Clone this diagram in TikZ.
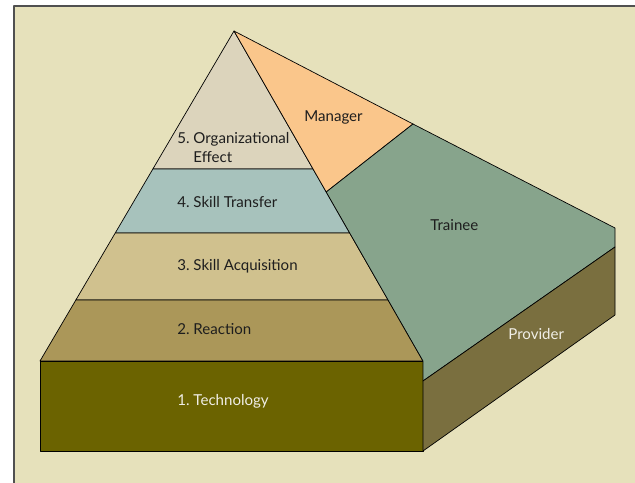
\documentclass[tikz,border=0pt]{standalone}
\usepackage{fontspec}
\setmainfont{Lato}
\usepackage{tikz}
\usetikzlibrary{calc}

\definecolor{bgkhaki}{HTML}{E6E1BB}
\definecolor{framegray}{HTML}{505050}
\definecolor{orgbeige}{HTML}{DCD4BC}
\definecolor{transferteal}{HTML}{A7C2BC}
\definecolor{acqtan}{HTML}{D0C18E}
\definecolor{reactbrown}{HTML}{AB9759}
\definecolor{techolive}{HTML}{6B6300}
\definecolor{mgrorange}{HTML}{FAC68B}
\definecolor{traineegreen}{HTML}{87A48C}
\definecolor{provbrown}{HTML}{7A6F3F}
\definecolor{labeldark}{HTML}{1E1E1E}
\definecolor{labellight}{HTML}{F0EEE6}

\begin{document}
\begin{tikzpicture}[x=0.035cm, y=-0.035cm, line width=0.7pt, line join=round,
    lbl/.style={anchor=west, inner sep=0pt, text=labeldark, font=\fontsize{15}{18.5}\selectfont},
    lbllight/.style={lbl, text=labellight}]
    \useasboundingbox (0,0) rectangle (635,483);
    \fill[white] (0,0) rectangle (635,483);
    \fill[bgkhaki] (14,6) rectangle (640,490);
    \draw[framegray, line width=1.4pt] (14,490) -- (14,6) -- (640,6);

    % pyramid corners
    \coordinate (apex) at (234,31);
    \coordinate (baseL) at (40,361);
    \coordinate (baseR) at (423,361);
    \coordinate (techBR) at (423,451);
    \coordinate (o5L) at ($(apex)!0.4182!(baseL)$);
    \coordinate (o5R) at ($(apex)!0.4182!(baseR)$);
    \coordinate (o4L) at ($(apex)!0.6121!(baseL)$);
    \coordinate (o4R) at ($(apex)!0.6121!(baseR)$);
    \coordinate (o3L) at ($(apex)!0.8152!(baseL)$);
    \coordinate (o3R) at ($(apex)!0.8152!(baseR)$);
    \coordinate (mgrMid) at ($(apex)!0.4879!(baseR)$);

    % back plane and side
    \coordinate (mgrBack) at (413,124);
    \coordinate (backTop) at (615,228);
    \coordinate (backEdge) at (615,247);
    \coordinate (backLow) at (615,315);
    \coordinate (sideTop) at (423,381);

    \filldraw[fill=orgbeige] (apex) -- (o5L) -- (o5R) -- cycle;
    \filldraw[fill=transferteal] (o5L) -- (o4L) -- (o4R) -- (o5R) -- cycle;
    \filldraw[fill=acqtan] (o4L) -- (o3L) -- (o3R) -- (o4R) -- cycle;
    \filldraw[fill=reactbrown] (o3L) -- (baseL) -- (baseR) -- (o3R) -- cycle;
    \filldraw[fill=techolive] (baseL) rectangle (techBR);

    \filldraw[fill=mgrorange] (apex) -- (mgrBack) -- (mgrMid) -- cycle;
    \filldraw[fill=traineegreen] (mgrMid) -- (mgrBack) -- (backTop) -- (backEdge) -- (sideTop) -- (baseR) -- cycle;
    \filldraw[fill=provbrown] (sideTop) -- (backEdge) -- (backLow) -- (techBR) -- cycle;

    \node[lbl, align=left] (org) at (177,147.5) {5.~Organizational\\\phantom{5.~}Effect};
    \node[lbl] (transfer) at (177,202) {4.~Skill Transfer};
    \node[lbl] (acq) at (177,266.5) {3.~Skill Acquisition};
    \node[lbl] (react) at (177,329) {2.~Reaction};
    \node[lbllight] (tech) at (177,401.5) {1.~Technology};
    \node[lbl] (mgr) at (304,117.5) {Manager};
    \node[lbl] (trainee) at (430,225.5) {Trainee};
    \node[lbllight] (prov) at (508,334) {Provider};
\end{tikzpicture}
\end{document}
